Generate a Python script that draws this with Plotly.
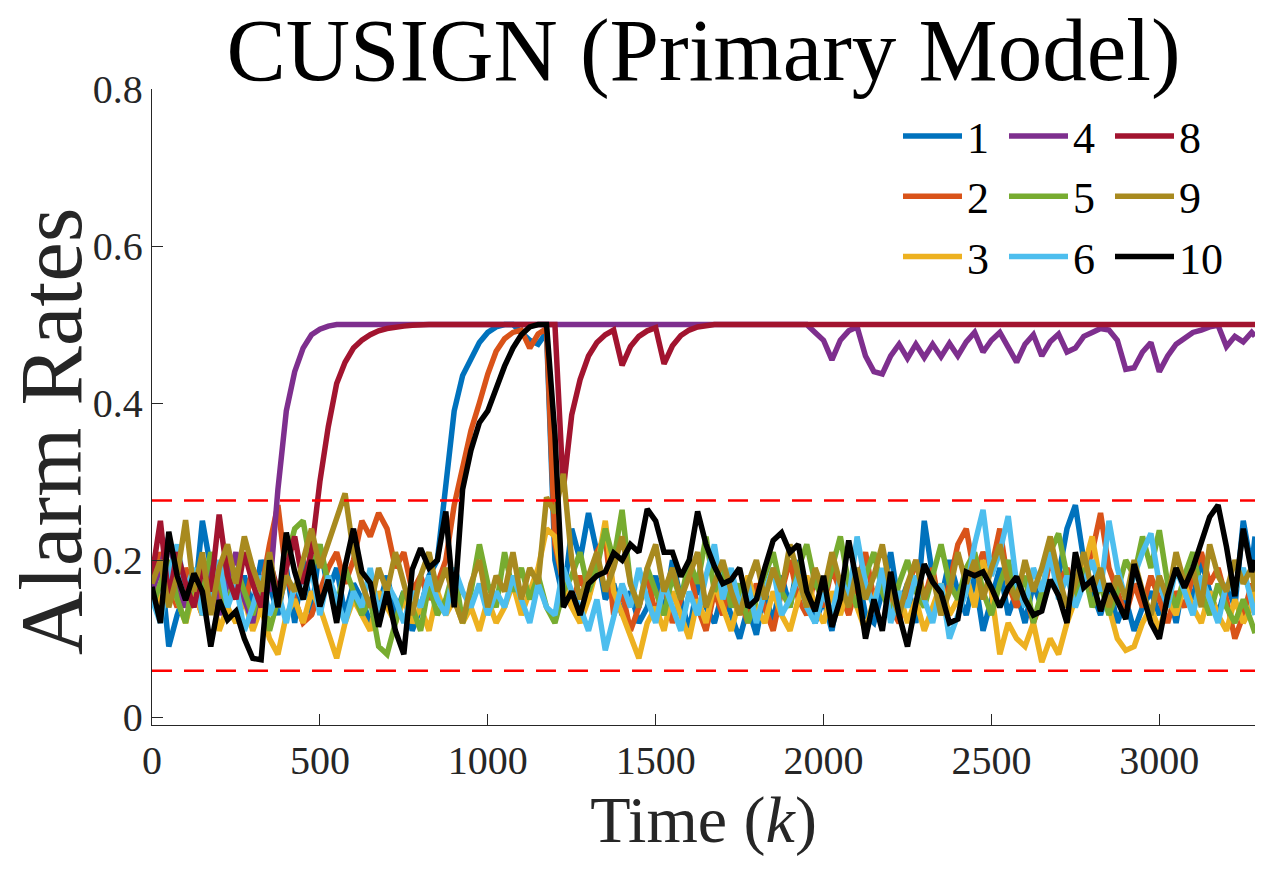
import plotly.graph_objects as go

# time index grid (every 25 steps, plus the final step)
T = list(range(0, 3276, 25)) + [3285]

S1 = [0.17, 0.20, 0.09, 0.13, 0.16, 0.14, 0.25, 0.19, 0.17, 0.21,
      0.15, 0.18, 0.14, 0.20, 0.17, 0.13, 0.19, 0.12, 0.20, 0.13,
      0.22, 0.16, 0.19, 0.13, 0.17, 0.15, 0.12, 0.14, 0.18, 0.13,
      0.16, 0.11, 0.14, 0.18, 0.20, 0.29, 0.39, 0.435, 0.455, 0.477,
      0.49, 0.497, 0.50, 0.50, 0.49, 0.48, 0.475, 0.49, 0.20, 0.15,
      0.24, 0.20, 0.26, 0.21, 0.15, 0.17, 0.13, 0.16, 0.12, 0.14,
      0.18, 0.13, 0.20, 0.15, 0.11, 0.17, 0.14, 0.12, 0.16, 0.13,
      0.10, 0.14, 0.105, 0.16, 0.12, 0.18, 0.14, 0.20, 0.16, 0.12,
      0.15, 0.11, 0.17, 0.14, 0.19, 0.13, 0.12, 0.16, 0.21, 0.14,
      0.17, 0.12, 0.25, 0.18, 0.15, 0.20, 0.16, 0.13, 0.18, 0.11,
      0.15, 0.19, 0.13, 0.16, 0.12, 0.17, 0.14, 0.21, 0.18, 0.24,
      0.27, 0.20, 0.16, 0.13, 0.17, 0.12, 0.15, 0.11, 0.14, 0.16,
      0.13, 0.17, 0.12, 0.18, 0.15, 0.20, 0.16, 0.13, 0.17, 0.14,
      0.25, 0.19, 0.23]

S2 = [0.15, 0.21, 0.17, 0.14, 0.19, 0.16, 0.13, 0.18, 0.15, 0.20,
      0.17, 0.14, 0.19, 0.16, 0.22, 0.27, 0.18, 0.15, 0.12, 0.13,
      0.16, 0.19, 0.21, 0.17, 0.20, 0.25, 0.23, 0.26, 0.24, 0.19,
      0.21, 0.16, 0.18, 0.15, 0.17, 0.20, 0.27, 0.32, 0.365, 0.40,
      0.437, 0.466, 0.482, 0.49, 0.493, 0.47, 0.488, 0.495, 0.22, 0.17,
      0.14, 0.18, 0.15, 0.21, 0.23, 0.13, 0.16, 0.11, 0.14, 0.18,
      0.13, 0.17, 0.12, 0.15, 0.19, 0.14, 0.11, 0.16, 0.13, 0.18,
      0.15, 0.12, 0.17, 0.14, 0.11, 0.16, 0.20, 0.15, 0.13, 0.18,
      0.14, 0.19, 0.16, 0.13, 0.17, 0.21, 0.15, 0.18, 0.14, 0.12,
      0.16, 0.20, 0.15, 0.19, 0.13, 0.17, 0.22, 0.24, 0.18, 0.21,
      0.19, 0.24, 0.17, 0.14, 0.16, 0.12, 0.15, 0.20, 0.17, 0.19,
      0.15, 0.18, 0.21, 0.26, 0.19, 0.16, 0.13, 0.17, 0.14, 0.18,
      0.15, 0.12, 0.16, 0.14, 0.18, 0.21, 0.17, 0.19, 0.15, 0.10,
      0.13, 0.17, 0.15]

S3 = [0.18, 0.14, 0.19, 0.15, 0.12, 0.16, 0.13, 0.17, 0.11, 0.14,
      0.12, 0.15, 0.11, 0.14, 0.10, 0.08, 0.13, 0.15, 0.12, 0.16,
      0.14, 0.11, 0.075, 0.12, 0.15, 0.13, 0.11, 0.16, 0.14, 0.12,
      0.15, 0.12, 0.14, 0.11, 0.16, 0.13, 0.15, 0.12, 0.14, 0.11,
      0.15, 0.12, 0.14, 0.17, 0.13, 0.16, 0.19, 0.24, 0.23, 0.17,
      0.14, 0.12, 0.15, 0.19, 0.25, 0.16, 0.13, 0.10, 0.075, 0.12,
      0.14, 0.11, 0.16, 0.13, 0.10, 0.15, 0.12, 0.17, 0.14, 0.11,
      0.15, 0.18, 0.14, 0.12, 0.16, 0.13, 0.11, 0.15, 0.18, 0.14,
      0.12, 0.16, 0.13, 0.17, 0.14, 0.11, 0.15, 0.18, 0.13, 0.16,
      0.12, 0.15, 0.11, 0.14, 0.17, 0.13, 0.15, 0.18, 0.14, 0.20,
      0.16, 0.08, 0.12, 0.10, 0.09, 0.12, 0.07, 0.10, 0.08, 0.12,
      0.15, 0.19, 0.23, 0.17, 0.14, 0.10, 0.085, 0.09, 0.12, 0.14,
      0.11, 0.15, 0.13, 0.17, 0.14, 0.12, 0.16, 0.13, 0.11, 0.15,
      0.12, 0.14, 0.17]

S4 = [0.16, 0.19, 0.23, 0.17, 0.14, 0.18, 0.15, 0.20, 0.13, 0.17,
      0.21, 0.15, 0.12, 0.18, 0.16, 0.29, 0.39, 0.44, 0.47, 0.487,
      0.494, 0.498, 0.50, 0.50, 0.50, 0.50, 0.50, 0.50, 0.50, 0.50,
      0.50, 0.50, 0.50, 0.50, 0.50, 0.50, 0.50, 0.50, 0.50, 0.50,
      0.50, 0.50, 0.50, 0.50, 0.50, 0.50, 0.50, 0.50, 0.50, 0.50,
      0.50, 0.50, 0.50, 0.50, 0.50, 0.50, 0.50, 0.50, 0.50, 0.50,
      0.50, 0.50, 0.50, 0.50, 0.50, 0.50, 0.50, 0.50, 0.50, 0.50,
      0.50, 0.50, 0.50, 0.50, 0.50, 0.50, 0.50, 0.50, 0.50, 0.49,
      0.48, 0.455, 0.48, 0.492, 0.497, 0.46, 0.44, 0.437, 0.46, 0.475,
      0.457, 0.475, 0.458, 0.475, 0.459, 0.476, 0.46, 0.478, 0.49, 0.465,
      0.48, 0.49, 0.47, 0.452, 0.475, 0.487, 0.46, 0.478, 0.488, 0.465,
      0.47, 0.485, 0.49, 0.495, 0.493, 0.48, 0.443, 0.445, 0.465, 0.477,
      0.44, 0.46, 0.475, 0.482, 0.49, 0.493, 0.497, 0.499, 0.472, 0.485,
      0.478, 0.49, 0.485]

S5 = [0.14, 0.17, 0.20, 0.15, 0.12, 0.18, 0.16, 0.21, 0.17, 0.14,
      0.19, 0.16, 0.13, 0.17, 0.11, 0.15, 0.20, 0.24, 0.25, 0.19,
      0.22, 0.17, 0.14, 0.19, 0.16, 0.13, 0.15, 0.09, 0.08, 0.12,
      0.16, 0.14, 0.11, 0.17, 0.13, 0.15, 0.19, 0.12, 0.16, 0.22,
      0.17, 0.14, 0.21, 0.16, 0.19, 0.15, 0.18, 0.14, 0.12, 0.16,
      0.18, 0.21, 0.16, 0.19, 0.24, 0.20, 0.264, 0.17, 0.14, 0.19,
      0.16, 0.13, 0.18, 0.15, 0.20, 0.17, 0.23, 0.16, 0.19, 0.14,
      0.17, 0.12, 0.15, 0.18, 0.21, 0.16, 0.14, 0.19, 0.22, 0.17,
      0.15, 0.19, 0.23, 0.17, 0.14, 0.18, 0.21, 0.16, 0.13, 0.17,
      0.20, 0.16, 0.14, 0.18, 0.22, 0.17, 0.15, 0.19, 0.21, 0.16,
      0.13, 0.17, 0.20, 0.15, 0.18, 0.12, 0.16, 0.21, 0.234, 0.18,
      0.15, 0.19, 0.14, 0.17, 0.13, 0.16, 0.20, 0.18, 0.23, 0.19,
      0.238, 0.17, 0.14, 0.18, 0.21, 0.16, 0.13, 0.17, 0.14, 0.12,
      0.15, 0.12, 0.107]

S6 = [0.15, 0.12, 0.18, 0.22, 0.16, 0.19, 0.13, 0.15, 0.20, 0.14,
      0.17, 0.11, 0.14, 0.18, 0.13, 0.16, 0.12, 0.17, 0.15, 0.19,
      0.13, 0.18, 0.15, 0.12, 0.16, 0.14, 0.19, 0.13, 0.17, 0.15,
      0.12, 0.16, 0.14, 0.18, 0.15, 0.13, 0.19, 0.16, 0.14, 0.17,
      0.13, 0.16, 0.14, 0.18, 0.15, 0.12, 0.17, 0.14, 0.13, 0.19,
      0.16, 0.14, 0.11, 0.15, 0.085, 0.13, 0.17, 0.14, 0.19, 0.15,
      0.12, 0.17, 0.14, 0.11, 0.16, 0.13, 0.18, 0.22, 0.15, 0.19,
      0.14, 0.17, 0.12, 0.16, 0.19, 0.13, 0.15, 0.18, 0.14, 0.12,
      0.16, 0.13, 0.18, 0.15, 0.23, 0.17, 0.14, 0.19, 0.12, 0.16,
      0.14, 0.18, 0.15, 0.12, 0.17, 0.10, 0.13, 0.16, 0.22, 0.264,
      0.18, 0.21, 0.256, 0.17, 0.14, 0.19, 0.16, 0.21, 0.15, 0.18,
      0.14, 0.17, 0.20, 0.16, 0.25, 0.19, 0.15, 0.18, 0.21, 0.234,
      0.17, 0.14, 0.19, 0.16, 0.13, 0.18, 0.15, 0.12, 0.17, 0.16,
      0.19, 0.15, 0.13]

S8 = [0.18, 0.25, 0.15, 0.21, 0.17, 0.14, 0.19, 0.16, 0.258, 0.18,
      0.15, 0.21, 0.17, 0.14, 0.20, 0.16, 0.19, 0.23, 0.17, 0.21,
      0.30, 0.37, 0.425, 0.452, 0.47, 0.48, 0.487, 0.492, 0.495, 0.497,
      0.498, 0.499, 0.50, 0.50, 0.50, 0.50, 0.50, 0.50, 0.50, 0.50,
      0.50, 0.50, 0.50, 0.50, 0.50, 0.50, 0.50, 0.50, 0.50, 0.29,
      0.385, 0.43, 0.46, 0.477, 0.487, 0.493, 0.448, 0.472, 0.485, 0.492,
      0.496, 0.45, 0.473, 0.486, 0.493, 0.497, 0.499, 0.50, 0.50, 0.50,
      0.50, 0.50, 0.50, 0.50, 0.50, 0.50, 0.50, 0.50, 0.50, 0.50,
      0.50, 0.50, 0.50, 0.50, 0.50, 0.50, 0.50, 0.50, 0.50, 0.50,
      0.50, 0.50, 0.50, 0.50, 0.50, 0.50, 0.50, 0.50, 0.50, 0.50,
      0.50, 0.50, 0.50, 0.50, 0.50, 0.50, 0.50, 0.50, 0.50, 0.50,
      0.50, 0.50, 0.50, 0.50, 0.50, 0.50, 0.50, 0.50, 0.50, 0.50,
      0.50, 0.50, 0.50, 0.50, 0.50, 0.50, 0.50, 0.50, 0.50, 0.50,
      0.50, 0.50, 0.50]

S9 = [0.17, 0.20, 0.14, 0.18, 0.251, 0.16, 0.21, 0.13, 0.19, 0.22,
      0.17, 0.23, 0.19, 0.16, 0.21, 0.14, 0.18, 0.16, 0.20, 0.24,
      0.19, 0.22, 0.25, 0.285, 0.21, 0.17, 0.14, 0.19, 0.16, 0.21,
      0.17, 0.13, 0.18, 0.21, 0.16, 0.19, 0.15, 0.12, 0.17, 0.20,
      0.14, 0.18, 0.16, 0.21, 0.15, 0.19, 0.17, 0.28, 0.26, 0.31,
      0.20, 0.15, 0.18, 0.21, 0.16, 0.19, 0.23, 0.17, 0.14, 0.19,
      0.22, 0.16, 0.19, 0.15, 0.18, 0.21, 0.14, 0.17, 0.20, 0.16,
      0.13, 0.17, 0.20, 0.15, 0.19, 0.16, 0.22, 0.18, 0.14, 0.19,
      0.16, 0.21, 0.17, 0.14, 0.19, 0.15, 0.18, 0.22, 0.16, 0.13,
      0.17, 0.20, 0.15, 0.18, 0.13, 0.16, 0.21, 0.17, 0.20, 0.15,
      0.19, 0.22, 0.17, 0.15, 0.20, 0.16, 0.19, 0.23, 0.18, 0.14,
      0.17, 0.21, 0.16, 0.19, 0.14, 0.18, 0.15, 0.20, 0.16, 0.13,
      0.18, 0.15, 0.21, 0.17, 0.19, 0.14, 0.22, 0.18, 0.16, 0.20,
      0.17, 0.19, 0.16]

S10 = [0.166, 0.12, 0.236, 0.18, 0.149, 0.183, 0.16, 0.09, 0.149, 0.124,
       0.135, 0.10, 0.075, 0.073, 0.20, 0.14, 0.235, 0.185, 0.15, 0.20,
       0.141, 0.175, 0.12, 0.192, 0.24, 0.185, 0.171, 0.115, 0.16, 0.11,
       0.08, 0.188, 0.215, 0.19, 0.20, 0.262, 0.14, 0.29, 0.34, 0.375,
       0.39, 0.418, 0.447, 0.47, 0.487, 0.497, 0.50, 0.50, 0.36, 0.14,
       0.16, 0.13, 0.17, 0.18, 0.185, 0.209, 0.20, 0.22, 0.21, 0.265,
       0.25, 0.21, 0.21, 0.179, 0.20, 0.262, 0.22, 0.192, 0.17, 0.175,
       0.19, 0.14, 0.15, 0.19, 0.225, 0.235, 0.21, 0.22, 0.16, 0.135,
       0.18, 0.115, 0.15, 0.225, 0.17, 0.10, 0.15, 0.11, 0.185, 0.13,
       0.09, 0.145, 0.195, 0.172, 0.158, 0.12, 0.125, 0.185, 0.18, 0.185,
       0.165, 0.14, 0.165, 0.179, 0.15, 0.13, 0.135, 0.175, 0.155, 0.12,
       0.21, 0.165, 0.175, 0.135, 0.17, 0.148, 0.125, 0.195, 0.158, 0.12,
       0.10, 0.155, 0.19, 0.165, 0.19, 0.22, 0.255, 0.27, 0.217, 0.154,
       0.24, 0.185, 0.20]

# control limits (red dashed)
UPPER_LIMIT = 0.276
LOWER_LIMIT = 0.059
X_MAX = 3285

SERIES = [
    ("1", S1, "#0072BD", "legend"),
    ("2", S2, "#D95319", "legend"),
    ("3", S3, "#EDB120", "legend"),
    ("4", S4, "#7E2F8E", "legend2"),
    ("5", S5, "#77AC30", "legend2"),
    ("6", S6, "#4DBEEE", "legend2"),
    ("8", S8, "#A2142F", "legend3"),
    ("9", S9, "#A88A1F", "legend3"),
    ("10", S10, "#000000", "legend3"),
]

# plot-area geometry in pixels (for placing legends / label)
L, R, TOP, BOT = 152, 1255, 89, 725
PW, PH = R - L, BOT - TOP

def px_x(p):
    return (p - L) / PW

def px_y(p):
    return (BOT - p) / PH

fig = go.Figure()
for name, vals, col, lg in SERIES:
    fig.add_trace(go.Scatter(x=T, y=vals, mode="lines", name=name,
                             line=dict(color=col, width=5.5),
                             legend=lg))

for lim in (UPPER_LIMIT, LOWER_LIMIT):
    fig.add_trace(go.Scatter(x=[0, X_MAX], y=[lim, lim], mode="lines",
                             showlegend=False, hoverinfo="skip",
                             line=dict(color="#FF0000", width=2.6, dash="20px,12px")))

AX = "#262626"
FONT = "Liberation Serif"

legend_common = dict(
    xref="paper", yref="paper", xanchor="left", yanchor="top",
    orientation="v", bgcolor="rgba(0,0,0,0)", borderwidth=0,
    font=dict(family=FONT, size=44, color="black"),
    itemwidth=59, tracegroupgap=0,
)

fig.update_layout(
    width=1270, height=872,
    margin=dict(l=L, r=1270 - R, t=TOP, b=872 - BOT),
    paper_bgcolor="white", plot_bgcolor="white",
    font=dict(family=FONT, color=AX),
    showlegend=True,
    title=dict(text="CUSIGN (Primary Model)", x=0.5, xref="paper", xanchor="center",
               y=1 - 49 / 872, yref="container", yanchor="middle",
               font=dict(family=FONT, size=89, color="black")),
    xaxis=dict(range=[0, X_MAX], tickvals=[0, 500, 1000, 1500, 2000, 2500, 3000],
               ticks="inside", ticklen=11, tickwidth=1.3, tickcolor=AX,
               showline=True, linecolor=AX, linewidth=1.3, mirror=False,
               showgrid=False, zeroline=False,
               tickfont=dict(family=FONT, size=40, color=AX),
               title=dict(text="Time (<i>k</i>)", font=dict(family=FONT, size=66, color=AX),
                          standoff=6)),
    yaxis=dict(range=[-0.01, 0.8], tickvals=[0, 0.2, 0.4, 0.6, 0.8],
               ticktext=["0", "0.2", "0.4", "0.6", "0.8"],
               ticks="inside", ticklen=11, tickwidth=1.3, tickcolor=AX,
               showline=True, linecolor=AX, linewidth=1.3, mirror=False,
               showgrid=False, zeroline=False,
               tickfont=dict(family=FONT, size=40, color=AX)),
    annotations=[dict(text="Alarm Rates", textangle=-90, showarrow=False,
                      xref="paper", yref="paper", x=px_x(51), y=px_y(432),
                      xanchor="center", yanchor="middle",
                      font=dict(family=FONT, size=89, color=AX))],
    legend=dict(legend_common, x=px_x(898), y=px_y(101)),
    legend2=dict(legend_common, x=px_x(1004), y=px_y(101)),
    legend3=dict(legend_common, x=px_x(1110), y=px_y(101)),
)

fig.write_html("out.html", config={"displayModeBar": False},
               post_script="document.body.style.margin='0';")
